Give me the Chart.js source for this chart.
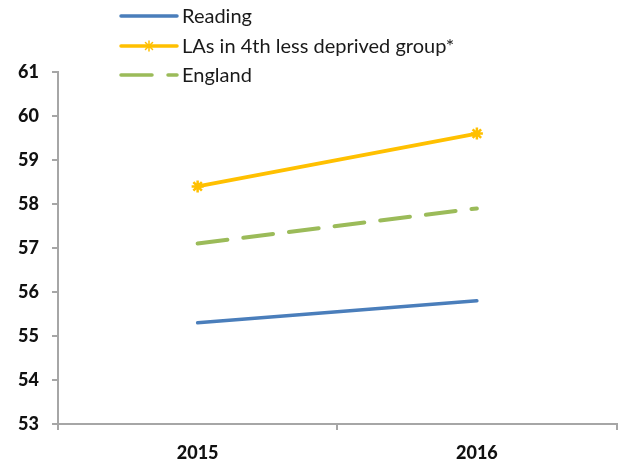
<!DOCTYPE html>
<html>
<head>
<meta charset="utf-8">
<script src="https://cdn.jsdelivr.net/npm/chart.js@4"></script>
<style>
  html, body { margin: 0; padding: 0; background: #fff; }
  #wrap { width: 625px; height: 468px; }
</style>
</head>
<body>
<div id="wrap"><canvas id="grafico" width="625" height="468"></canvas></div>
<script>
// years on the bottom axis
const years = ["2015", "2016"];

// series
const reading = [55.3, 55.8];
const laGroup = [58.4, 59.6];
const england = [57.1, 57.9];

const seriesNames = ["Reading", "LAs in 4th less deprived group*", "England"];
const yTicks = [53, 54, 55, 56, 57, 58, 59, 60, 61];

const fontFam = "Lato, 'Liberation Sans', sans-serif";

// legend drawn by hand in the top left, above the plot
const legendPlugin = {
  id: "leyenda",
  afterDraw(chart) {
    const ctx = chart.ctx;
    const rows = [16, 46, 75];
    chart.data.datasets.forEach((ds, i) => {
      const y = rows[i];
      ctx.save();
      ctx.strokeStyle = ds.borderColor;
      ctx.lineWidth = 3.5;
      ctx.lineCap = "round";
      ctx.beginPath();
      if (ds.borderDash && ds.borderDash.length) {
        ctx.moveTo(121, y); ctx.lineTo(152, y);
        ctx.moveTo(168, y); ctx.lineTo(177, y);
      } else {
        ctx.moveTo(121, y); ctx.lineTo(177, y);
      }
      ctx.stroke();
      if (ds.pointStyle === "star") {
        ctx.lineWidth = 1.5;
        const cx = 149, r = 5;
        ctx.beginPath();
        for (let k = 0; k < 4; k++) {
          const a = k * Math.PI / 4;
          ctx.moveTo(cx - r * Math.cos(a), y - r * Math.sin(a));
          ctx.lineTo(cx + r * Math.cos(a), y + r * Math.sin(a));
        }
        ctx.stroke();
      }
      ctx.fillStyle = "#1a1a1a";
      ctx.font = "20px " + fontFam;
      ctx.textBaseline = "middle";
      ctx.fillText(ds.label, 182, y + 1);
      ctx.restore();
    });
  }
};

new Chart(document.getElementById("grafico").getContext("2d"), {
  type: "line",
  data: {
    labels: years,
    datasets: [
      {
        label: seriesNames[0],
        data: reading,
        borderColor: "#4a7ebb",
        borderWidth: 3.5,
        pointRadius: 0,
        borderCapStyle: "round"
      },
      {
        label: seriesNames[1],
        data: laGroup,
        borderColor: "#ffc000",
        backgroundColor: "#ffc000",
        borderWidth: 4,
        pointStyle: "star",
        pointRadius: 6,
        pointBorderWidth: 2.5,
        borderCapStyle: "round"
      },
      {
        label: seriesNames[2],
        data: england,
        borderColor: "#9bbb59",
        borderWidth: 4,
        borderDash: [30, 16],
        pointRadius: 0,
        borderCapStyle: "round"
      }
    ]
  },
  options: {
    responsive: false,
    animation: false,
    layout: { padding: { top: 72, right: 0, left: 0, bottom: 0 } },
    plugins: {
      legend: { display: false },
      tooltip: { enabled: false }
    },
    scales: {
      x: {
        offset: true,
        grid: {
          offset: true,
          drawOnChartArea: false,
          drawTicks: true,
          tickLength: 6,
          color: "#a6a6a6",
          lineWidth: 2
        },
        border: { color: "#a6a6a6", width: 2 },
        ticks: {
          color: "#111",
          padding: 12,
          font: { family: fontFam, size: 18, weight: "900" }
        },
        afterFit(scale) { scale.height = 44; }
      },
      y: {
        min: 53,
        max: 61,
        afterBuildTicks(scale) { scale.ticks = yTicks.map(v => ({ value: v })); },
        grid: {
          drawOnChartArea: false,
          drawTicks: true,
          tickLength: 6,
          color: "#a6a6a6",
          lineWidth: 2
        },
        border: { color: "#a6a6a6", width: 2 },
        ticks: {
          color: "#111",
          padding: 13,
          font: { family: fontFam, size: 18, weight: "900" }
        },
        afterFit(scale) { scale.width = 58; }
      }
    }
  },
  plugins: [legendPlugin]
});
</script>
</body>
</html>
